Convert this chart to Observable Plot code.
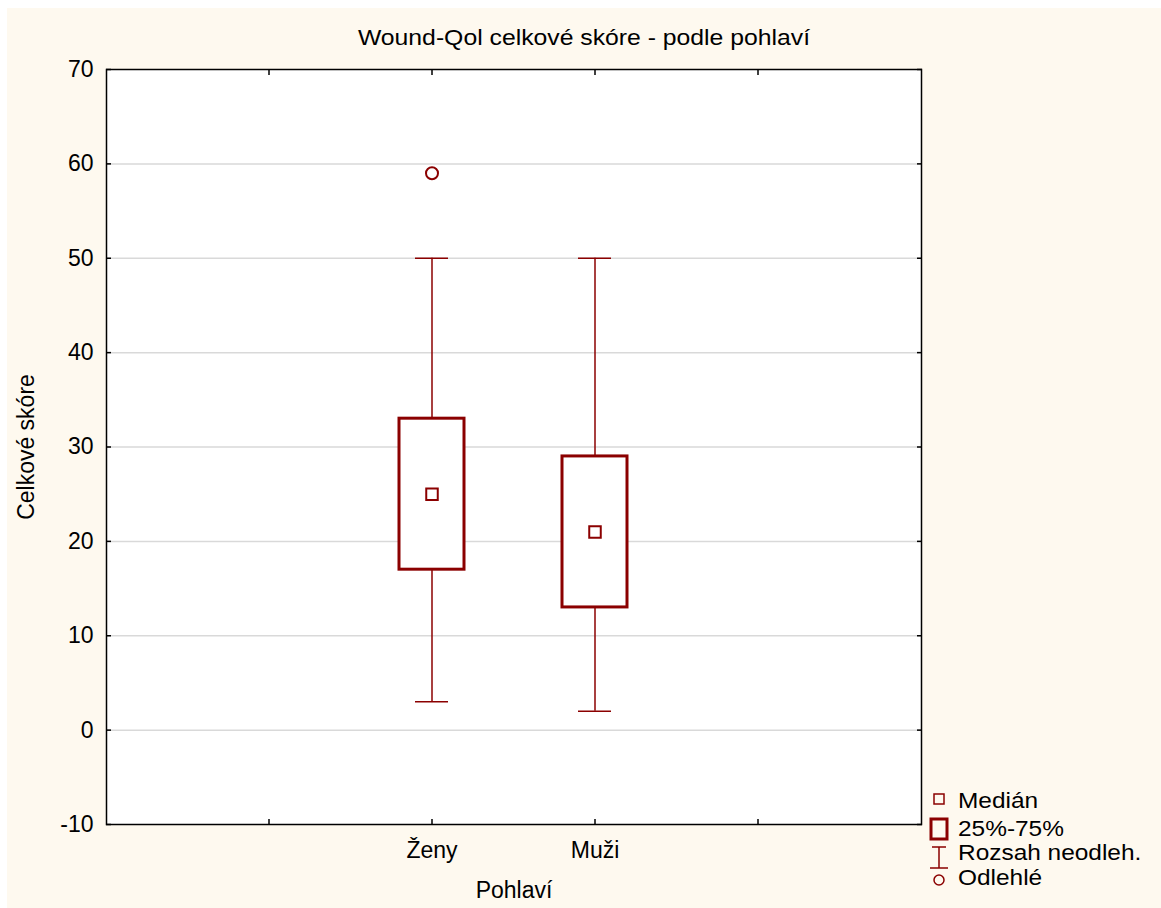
<!DOCTYPE html>
<html>
<head>
<meta charset="utf-8">
<script src="https://cdn.jsdelivr.net/npm/d3@7"></script>
<script src="https://cdn.jsdelivr.net/npm/@observablehq/plot@0.6"></script>
<style>
  body { margin: 0; background: #ffffff; }
  #wrap { position: absolute; left: 7px; top: 8px; width: 1154px; height: 900px; background: #FEF9EF;
          font-family: "Liberation Sans", Arial, sans-serif; color: #000; overflow: hidden; }
  #title { position: absolute; left: 0; top: 15px; width: 100%; text-align: center; font-size: 22px;
           line-height: 30px; transform: scaleX(1.125); transform-origin: 577px 50%; }
  #chart { position: absolute; left: 0; top: 50px; }
  .leg { position: absolute; left: 951px; font-size: 22px; line-height: 24px; white-space: nowrap;
         transform: scaleX(1.11); transform-origin: 0 50%; }
  #legsym { position: absolute; left: 921px; top: 782px; }
</style>
</head>
<body>
<div id="wrap">
  <div id="title">Wound-Qol celkové skóre - podle pohlaví</div>
  <div id="chart"></div>
  <svg id="legsym" width="26" height="100"></svg>
</div>
<script>
// ---- data ----
const categories = ["Ženy", "Muži"];
const lowWhisker = [3, 2];
const q1 = [17, 13];
const medians = [25, 21];
const q3 = [33, 29];
const highWhisker = [50, 50];
const outlierCategory = ["Ženy"];
const outlierValue = [59];
const yTicks = [-10, 0, 10, 20, 30, 40, 50, 60, 70];
const gridTicks = [0, 10, 20, 30, 40, 50, 60];
const xSlots = ["slotL", ...categories, "slotR"];
const legendLabels = ["Medián", "25%-75%", "Rozsah neodleh.", "Odlehlé"];

const title = "Wound-Qol celkové skóre - podle pohlaví";
const xLabel = "Pohlaví";
const yLabel = "Celkové skóre";

const red = "#8B0000";

const boxes = categories.map((c, i) => ({
  cat: c, low: lowWhisker[i], q1: q1[i], median: medians[i], q3: q3[i], high: highWhisker[i]
}));
const outliers = outlierCategory.map((c, i) => ({cat: c, value: outlierValue[i]}));

document.getElementById("title").textContent = title;

const font = "'Liberation Sans', Arial, sans-serif";

const chart = Plot.plot({
  width: 1154,
  height: 842,
  marginTop: 11,
  marginLeft: 99,
  marginRight: 240,
  marginBottom: 76,
  style: {background: "transparent", fontFamily: font, fontSize: "23px", color: "#000", overflow: "visible"},
  x: {type: "band", domain: xSlots, paddingInner: 0.6, paddingOuter: 0.8},
  y: {domain: [-10, 70]},
  marks: [
    Plot.frame({fill: "white", stroke: "none"}),
    Plot.gridY(gridTicks, {stroke: "#d9d9d9", strokeOpacity: 1, strokeWidth: 1.5}),
    Plot.ruleX(boxes, {x: "cat", y1: "low", y2: "high", stroke: red, strokeWidth: 1.5}),
    Plot.tickY(boxes, {x: "cat", y: "low", stroke: red, strokeWidth: 1.5, inset: 16}),
    Plot.tickY(boxes, {x: "cat", y: "high", stroke: red, strokeWidth: 1.5, inset: 16}),
    Plot.barY(boxes, {x: "cat", y1: "q1", y2: "q3", fill: "white", stroke: red, strokeWidth: 3}),
    Plot.dot(boxes, {x: "cat", y: "median", symbol: "square", r: 6.5, stroke: red, strokeWidth: 2, fill: "white"}),
    Plot.dot(outliers, {x: "cat", y: "value", r: 6, stroke: red, strokeWidth: 2, fill: "none"}),
    Plot.axisY(yTicks, {anchor: "left", tickSize: -5, tickPadding: 18, strokeWidth: 1.5,
      fontSize: 23, tickFormat: d => String(d),
      label: yLabel, labelAnchor: "center", labelArrow: "none", labelOffset: 89}),
    Plot.axisY(yTicks, {anchor: "right", tickSize: -5, strokeWidth: 1.5, fill: "none", label: null}),
    Plot.axisX(xSlots, {anchor: "top", tickSize: -5, strokeWidth: 1.5, fill: "none", label: null}),
    Plot.axisX(xSlots, {anchor: "bottom", tickSize: -5, strokeWidth: 1.5, fill: "none", label: null}),
    Plot.axisX(categories, {anchor: "bottom", tickSize: 0, tickPadding: 17, fontSize: 23,
      label: xLabel, labelAnchor: "center", labelArrow: "none", labelOffset: 73}),
    Plot.frame({stroke: "black", strokeWidth: 1.5})
  ]
});
document.getElementById("chart").appendChild(chart);

// ---- legend ----
const wrap = document.getElementById("wrap");
const baselines = [800, 828, 852, 877];
legendLabels.forEach((t, i) => {
  const d = document.createElement("div");
  d.className = "leg";
  d.style.top = (baselines[i] - 19) + "px";
  d.textContent = t;
  wrap.appendChild(d);
});
const ls = d3.select("#legsym");
ls.append("rect").attr("x", 6).attr("y", 4).attr("width", 10).attr("height", 10)
  .attr("fill", "none").attr("stroke", red).attr("stroke-width", 1.5);
ls.append("rect").attr("x", 3).attr("y", 29).attr("width", 16).attr("height", 20)
  .attr("fill", "none").attr("stroke", red).attr("stroke-width", 3);
ls.append("path").attr("d", "M4,57H18M11,57V78M2,78H20")
  .attr("fill", "none").attr("stroke", red).attr("stroke-width", 1.5);
ls.append("circle").attr("cx", 11).attr("cy", 90).attr("r", 5)
  .attr("fill", "none").attr("stroke", red).attr("stroke-width", 1.5);
</script>
</body>
</html>
